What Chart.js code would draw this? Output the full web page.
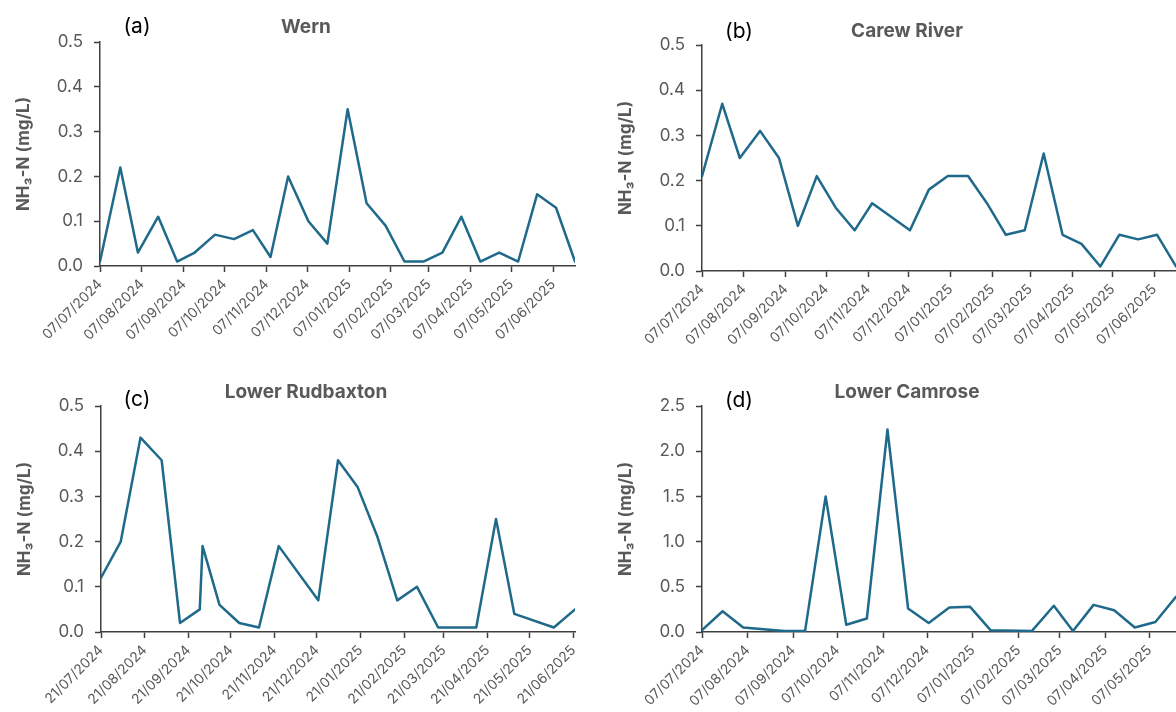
<!DOCTYPE html>
<html>
<head>
<meta charset="utf-8">
<script src="https://cdn.jsdelivr.net/npm/chart.js@4.4.1/dist/chart.umd.min.js"></script>
<style>
html,body{margin:0;background:#fff;}
body{width:1176px;height:712px;position:relative;overflow:hidden;}
.p{position:absolute;width:588px;height:356px;}
</style>
</head>
<body>
<div class="p" style="left:0;top:0"><canvas id="cA" width="588" height="356"></canvas></div>
<div class="p" style="left:588px;top:0"><canvas id="cB" width="588" height="356"></canvas></div>
<div class="p" style="left:0;top:356px"><canvas id="cC" width="588" height="356"></canvas></div>
<div class="p" style="left:588px;top:356px"><canvas id="cD" width="588" height="356"></canvas></div>
<script>
// (a) Wern
const datesA = ['07/07/2024','22/07/2024','04/08/2024','19/08/2024','02/09/2024','15/09/2024','30/09/2024','14/10/2024','28/10/2024','10/11/2024','23/11/2024','08/12/2024','22/12/2024','06/01/2025','20/01/2025','03/02/2025','17/02/2025','03/03/2025','17/03/2025','31/03/2025','14/04/2025','28/04/2025','12/05/2025','26/05/2025','09/06/2025','23/06/2025'];
const valuesA = [0.01,0.22,0.03,0.11,0.01,0.03,0.07,0.06,0.08,0.02,0.20,0.10,0.05,0.35,0.14,0.09,0.01,0.01,0.03,0.11,0.01,0.03,0.01,0.16,0.13,0.01];
// (b) Carew River
const datesB = ['07/07/2024','22/07/2024','04/08/2024','19/08/2024','02/09/2024','16/09/2024','30/09/2024','14/10/2024','28/10/2024','10/11/2024','08/12/2024','22/12/2024','05/01/2025','20/01/2025','03/02/2025','17/02/2025','03/03/2025','17/03/2025','31/03/2025','14/04/2025','28/04/2025','12/05/2025','26/05/2025','09/06/2025','23/06/2025'];
const valuesB = [0.21,0.37,0.25,0.31,0.25,0.10,0.21,0.14,0.09,0.15,0.09,0.18,0.21,0.21,0.15,0.08,0.09,0.26,0.08,0.06,0.01,0.08,0.07,0.08,0.01];
// (c) Lower Rudbaxton
const datesC = ['21/07/2024','04/08/2024','18/08/2024','02/09/2024','15/09/2024','29/09/2024','01/10/2024','13/10/2024','27/10/2024','10/11/2024','24/11/2024','22/12/2024','05/01/2025','19/01/2025','02/02/2025','16/02/2025','02/03/2025','17/03/2025','13/04/2025','27/04/2025','10/05/2025','07/06/2025','22/06/2025'];
const valuesC = [0.12,0.20,0.43,0.38,0.02,0.05,0.19,0.06,0.02,0.01,0.19,0.07,0.38,0.32,0.21,0.07,0.10,0.01,0.01,0.25,0.04,0.01,0.05];
// (d) Lower Camrose
const datesD = ['07/07/2024','21/07/2024','04/08/2024','01/09/2024','15/09/2024','29/09/2024','13/10/2024','27/10/2024','10/11/2024','24/11/2024','08/12/2024','22/12/2024','05/01/2025','19/01/2025','16/02/2025','03/03/2025','16/03/2025','30/03/2025','13/04/2025','27/04/2025','11/05/2025','25/05/2025'];
const valuesD = [0.02,0.23,0.05,0.01,0.01,1.50,0.08,0.15,2.24,0.26,0.10,0.27,0.28,0.02,0.01,0.29,0.01,0.30,0.24,0.05,0.11,0.39];

// tick labels
const ticks07 = ['07/07/2024','07/08/2024','07/09/2024','07/10/2024','07/11/2024','07/12/2024','07/01/2025','07/02/2025','07/03/2025','07/04/2025','07/05/2025','07/06/2025'];
const ticks07D = ['07/07/2024','07/08/2024','07/09/2024','07/10/2024','07/11/2024','07/12/2024','07/01/2025','07/02/2025','07/03/2025','07/04/2025','07/05/2025'];
const ticks21 = ['21/07/2024','21/08/2024','21/09/2024','21/10/2024','21/11/2024','21/12/2024','21/01/2025','21/02/2025','21/03/2025','21/04/2025','21/05/2025','21/06/2025'];

const C = {line:'#1f6a8a', axis:'#3f3f3f', tick:'#595959', title:'#595959', tag:'#000'};
const F = "Inter, 'Liberation Sans', sans-serif";

const toDay = s => { const [d,m,y] = s.split('/').map(Number); return Date.UTC(y,m-1,d)/86400000; };
const pad2 = n => String(n).padStart(2,'0');
const fmtDay = v => { const t = new Date(Math.round(v)*86400000); return pad2(t.getUTCDate())+'/'+pad2(t.getUTCMonth()+1)+'/'+t.getUTCFullYear(); };

const panelText = {
  id:'panelText',
  afterDraw(chart, args, o){
    const c = chart.ctx;
    c.save();
    c.textAlign = 'center';
    c.textBaseline = 'alphabetic';
    c.font = `21px ${F}`; c.fillStyle = C.tag;
    c.fillText(o.tag, o.tagX, o.tagY);
    c.font = `bold 19px ${F}`; c.fillStyle = C.title;
    c.fillText(o.title, o.titleX, o.titleY);
    c.restore();
  }
};

function panel(id, dates, values, tickLabels, p){
  const days = dates.map(toDay);
  const tickDays = tickLabels.map(toDay);
  const axisTicks = {display:true, drawOnChartArea:false, drawTicks:true, tickLength:6, tickWidth:1.5, tickColor:C.axis};
  new Chart(document.getElementById(id), {
    type:'line',
    data:{datasets:[{
      data:days.map((d,i)=>({x:d, y:values[i]})),
      borderColor:C.line, borderWidth:2.5, borderJoinStyle:'round', borderCapStyle:'round',
      pointRadius:0, tension:0, fill:false
    }]},
    options:{
      responsive:false, animation:false, events:[],
      layout:{padding:{top:p.top, right:p.right, left:0, bottom:0}},
      plugins:{legend:{display:false}, tooltip:{enabled:false},
        panelText:{tag:p.tag, tagX:p.tagX, tagY:p.tagY, title:p.title, titleX:p.titleX, titleY:p.titleY}},
      scales:{
        x:{
          type:'linear', min:days[0], max:days[days.length-1],
          grid:axisTicks,
          border:{display:true, color:C.axis, width:1.5},
          afterBuildTicks:s=>{ s.ticks = tickDays.map(v=>({value:v})); },
          afterFit:s=>{ s.height = 356 - p.bottom; s.paddingLeft = 0; s.paddingRight = 0; },
          ticks:{autoSkip:false, maxRotation:45, minRotation:45, padding:4, color:C.tick,
            font:{family:F, size:14}, callback:v=>fmtDay(v)}
        },
        y:{
          min:0, max:p.ymax,
          grid:axisTicks,
          border:{display:true, color:C.axis, width:1.5},
          afterFit:s=>{ s.width = p.left; s.paddingTop = 0; s.paddingBottom = 0; },
          ticks:{stepSize:p.step, padding:11, color:C.tick, font:{family:F, size:17}, callback:v=>v.toFixed(1)},
          title:{display:true, text:'NH₃-N (mg/L)', color:C.title, font:{family:F, size:17, weight:'bold'},
            padding:{top:p.left-76-10.2, bottom:0}}
        }
      }
    },
    plugins:[panelText]
  });
}

panel('cA', datesA, valuesA, ticks07, {ymax:0.5, step:0.1, left:100, right:13, top:42, bottom:266,
  tag:'(a)', tagX:137, tagY:33, title:'Wern', titleX:306, titleY:33});
panel('cB', datesB, valuesB, ticks07, {ymax:0.5, step:0.1, left:114, right:0, top:45, bottom:271,
  tag:'(b)', tagX:151, tagY:38, title:'Carew River', titleX:319, titleY:37});
panel('cC', datesC, valuesC, ticks21, {ymax:0.5, step:0.1, left:101, right:13, top:50, bottom:276,
  tag:'(c)', tagX:137, tagY:50, title:'Lower Rudbaxton', titleX:306, titleY:42});
panel('cD', datesD, valuesD, ticks07D, {ymax:2.5, step:0.5, left:114, right:0, top:50, bottom:276,
  tag:'(d)', tagX:151, tagY:51, title:'Lower Camrose', titleX:319, titleY:42});
</script>
</body>
</html>
